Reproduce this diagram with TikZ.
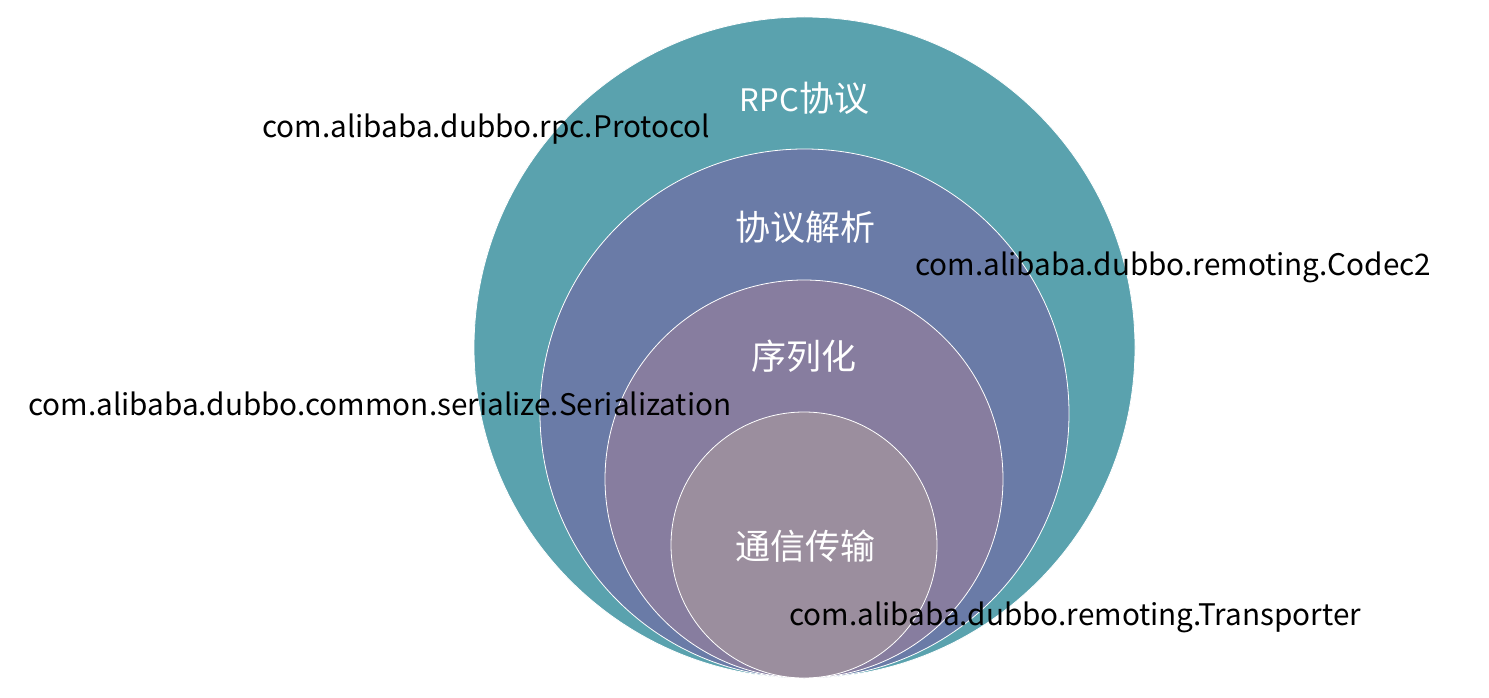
\documentclass[tikz,border=0pt]{standalone}
\usepackage{fontspec}
\setmainfont{Noto Sans CJK SC}
\definecolor{c1}{HTML}{5AA2AE}
\definecolor{c2}{HTML}{6A7BA7}
\definecolor{c3}{HTML}{877D9F}
\definecolor{c4}{HTML}{9B8E9E}
\begin{document}
\begin{tikzpicture}[x=1pt,y=-1pt,
  ring/.style={fill=#1,draw=white,line width=0.8pt},
  inlabel/.style={text=white,font=\fontsize{35}{40}\selectfont,inner sep=0pt},
  apilabel/.style={text=black,font=\fontsize{29.7}{34}\selectfont,inner sep=0pt,anchor=base west}]
\useasboundingbox (0,0) rectangle (1489,698);
\fill[white] (0,0) rectangle (1489,698);
\draw[ring=c1] (804.5,347.5) circle[radius=330.5pt];
\draw[ring=c2] (804.5,413.5) circle[radius=264.5pt];
\draw[ring=c3] (804,479) circle[radius=199pt];
\draw[ring=c4] (804,545) circle[radius=133pt];
\node[inlabel] (rpc) at (804.5,98) {{\fontsize{31}{36}\selectfont RPC}协议};
\node[inlabel] (codec) at (805,227) {协议解析};
\node[inlabel] (ser) at (804,356) {序列化};
\node[inlabel] (tr) at (805,546) {通信传输};
\node[apilabel] (l1) at (262,138) {com.alibaba.dubbo.rpc.Protocol};
\node[apilabel] (l2) at (915,275) {com.alibaba.dubbo.remoting.Codec2};
\node[apilabel] (l3) at (28,415) {com.alibaba.dubbo.common.serialize.Serialization};
\node[apilabel] (l4) at (789,625) {com.alibaba.dubbo.remoting.Transporter};
\end{tikzpicture}
\end{document}
